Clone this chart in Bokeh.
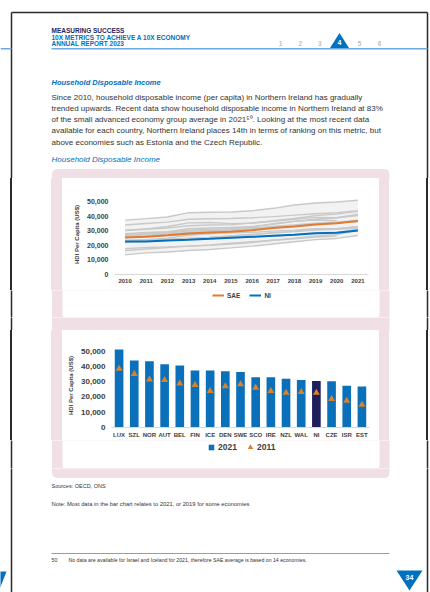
from bokeh.plotting import figure
from bokeh.layouts import column
from bokeh.models import (Range1d, FactorRange, FixedTicker, NumeralTickFormatter,
                          Legend, LegendItem, ColumnDataSource)
from bokeh.core.properties import value
from bokeh.embed import file_html
from bokeh.resources import INLINE
import numpy as np

# ---------------- data ----------------
YEARS = list(range(2010, 2022))
SAE = [25500, 25900, 27000, 28200, 28900, 29400, 30500, 31900, 33000, 34400, 35300, 36700]
NI = [22700, 22700, 23400, 23900, 24500, 25200, 25900, 26600, 27300, 28400, 28700, 30300]

LUX = [37400, 38400, 39500, 42500, 42800, 43000, 43800, 45500, 47800, 49200, 49800, 51000]
SZL = [34000, 35100, 36000, 38000, 38300, 38500, 39000, 39800, 40800, 41800, 42500, 43900]
NOR = [30500, 31400, 33000, 35500, 35800, 35000, 35200, 37000, 38500, 40500, 41500, 43400]
AUT = [30200, 31100, 32000, 33500, 34000, 34200, 35500, 36500, 38000, 39300, 39000, 41400]
BEL = [28000, 28900, 29500, 31500, 32000, 32300, 33000, 34500, 36500, 38000, 39000, 40600]
FIN = [27000, 27800, 28500, 29800, 30200, 30800, 31500, 33000, 34000, 35200, 36000, 37300]
ICE = [22500, 23900, 25000, 27000, 28000, 30000, 32500, 35000, 36500, 37500, 37000, np.nan]
DEN = [26300, 27000, 27800, 29000, 29500, 30500, 31500, 32500, 33800, 35000, 35500, 36800]
SWE = [27500, 28300, 29000, 30500, 31000, 31500, 32000, 32800, 33500, 34500, 35500, 36400]
SCO = [25500, 26100, 26800, 27500, 28000, 28600, 29000, 29800, 30500, 31500, 31500, 32900]
IRE = [23500, 23900, 24200, 25000, 25500, 26500, 27500, 28800, 29800, 31000, 31500, 32900]
NZL = [22000, 22800, 23500, 24500, 25500, 26500, 27500, 28500, 29500, 30500, 31000, 32000]
WAL = [22600, 23200, 23600, 24200, 24800, 25300, 25800, 26500, 27300, 28500, 29000, 31100]
CZE = [17800, 18600, 19000, 19500, 20000, 21000, 22000, 23500, 25000, 26500, 27500, 30300]
ISR = [16500, 17500, 18500, 19500, 20300, 21500, 22500, 23500, 24500, 25800, 26500, np.nan]
EST = [13500, 14900, 15500, 16500, 17200, 18300, 19500, 21000, 22500, 24000, 24800, 26800]
OTHERS = [LUX, SZL, NOR, AUT, BEL, FIN, ICE, DEN, SWE, SCO, IRE, NZL, WAL, CZE, ISR, EST]

BAR_CATS = ["LUX", "SZL", "NOR", "AUT", "BEL", "FIN", "ICE", "DEN", "SWE",
            "SCO", "IRE", "NZL", "WAL", "NI", "CZE", "ISR", "EST"]
BAR_2021 = [51100, 43900, 43400, 41400, 40600, 37300, 37300, 36800, 36400,
            32900, 32900, 32000, 31100, 30500, 30300, 27400, 26800]
BAR_2011 = [38400, 35100, 31400, 31100, 28900, 27800, 23900, 27000, 28300,
            26100, 23900, 22800, 23200, 22800, 18600, 17500, 14900]

Y_TICKS = [0, 10000, 20000, 30000, 40000, 50000]

BODY = [
    "Since 2010, household disposable income (per capita) in Northern Ireland has gradually",
    "trended upwards. Recent data show household disposable income in Northern Ireland at 83%",
    "of the small advanced economy group average in 2021\u2075\u2070. Looking at the most recent data",
    "available for each country, Northern Ireland places 14th in terms of ranking on this metric, but",
    "above economies such as Estonia and the Czech Republic.",
]

# ---------------- styles ----------------
FONT_NAME = "Liberation Sans"
FONT = value(FONT_NAME)
BLUE = "#0070C0"
NAVY = "#1F1F5E"
LBLUE = "#6FA8DC"
PINK = "#F0DFE5"
TXT = "#333333"
AX = "#404040"
BORDER = "#2A2A2A"
ORANGE = "#E07B30"
BAR_BLUE = "#0B70BA"
TRI = "#D9822B"

# page background for the chart rows (page border + pink panel margins)
ROW_BG = ("linear-gradient(to right, #ffffff 0px, #ffffff 10.25px, {b} 10.25px, {b} 11.75px, "
          "#ffffff 11.75px, #ffffff 51.5px, {p} 51.5px, {p} 62px, #ffffff 62px, #ffffff 379px, "
          "{p} 379px, {p} 389px, #ffffff 389px, #ffffff 426.25px, {b} 426.25px, {b} 427.75px, "
          "#ffffff 427.75px, #ffffff 430px)").format(b=BORDER, p=PINK)


def no_align(f):
    try:
        f.frame_align = False
    except Exception:
        pass
    return f


def txt(f, x, y, s, size, color=TXT, style="normal", align="left"):
    f.text(x=[x], y=[y], text=[s], text_font=FONT, text_font_size=size,
           text_color=color, text_font_style=style, text_align=align,
           text_baseline="middle")


def page_fig(y0, h, white_box=None):
    f = figure(width=430, height=h, x_range=Range1d(0, 430), y_range=Range1d(y0 + h, y0),
               x_axis_type=None, y_axis_type=None, min_border=0, toolbar_location=None,
               output_backend="svg", background_fill_color="white",
               border_fill_color="white", outline_line_color=None)
    no_align(f)
    f.grid.visible = False
    f.quad(left=[51.5], right=[389], top=[168.5], bottom=[477.5], fill_color=PINK,
           line_color=None, border_radius=5)
    if white_box is not None:
        f.quad(left=[62], right=[379], top=[white_box[0]], bottom=[white_box[1]],
               fill_color="white", line_color=None, border_radius=3)
    f.multi_line(xs=[[11, 11], [11, 427], [427, 427]], ys=[[12, 600], [12, 12], [12, 600]],
                 line_color=BORDER, line_width=1.5)
    f.multi_line(xs=[[51, 427], [0, 11]], ys=[[48.3, 48.3], [48.3, 48.3]],
                 line_color=LBLUE, line_width=1.5)
    f.line(x=[51, 389], y=[553, 553], line_color=LBLUE, line_width=1)
    return f


def style_axes(p, xsize, ysize):
    for ax in (p.xaxis, p.yaxis):
        ax.major_tick_line_color = None
        ax.minor_tick_line_color = None
        ax.major_tick_out = 0
        ax.major_tick_in = 0
        ax.minor_tick_out = 0
        ax.major_label_text_font = FONT_NAME
        ax.major_label_text_font_style = "bold"
        ax.major_label_text_color = AX
    p.xaxis.axis_line_color = "#D9D9D9"
    p.xaxis.major_label_text_font_size = xsize
    p.xaxis.major_label_standoff = 4
    p.yaxis.ticker = FixedTicker(ticks=Y_TICKS)
    p.yaxis.formatter = NumeralTickFormatter(format="0,0")
    p.yaxis.axis_line_color = None
    p.yaxis.major_label_text_font_size = ysize
    p.yaxis.major_label_standoff = 6
    p.yaxis.axis_label = "HDI Per Capita (US$)"
    p.yaxis.axis_label_text_font = FONT_NAME
    p.yaxis.axis_label_text_font_size = "6px"
    p.yaxis.axis_label_text_font_style = "bold"
    p.yaxis.axis_label_text_color = AX
    p.yaxis.axis_label_standoff = 4


# ---------------- region A (top) ----------------
A = page_fig(0, 178)
txt(A, 51, 30, "MEASURING SUCCESS", "6.5px", NAVY, "bold")
txt(A, 51, 36.5, "10X METRICS TO ACHIEVE A 10X ECONOMY", "6.5px", BLUE, "bold")
txt(A, 51, 43, "ANNUAL REPORT 2023", "6.5px", BLUE, "bold")
for i, n in enumerate(["1", "2", "3"]):
    txt(A, 280 + 19.7 * i, 42.5, n, "6.5px", "#BFBFBF", "bold", "center")
for i, n in enumerate(["5", "6"]):
    txt(A, 359 + 20 * i, 42.5, n, "6.5px", "#BFBFBF", "bold", "center")
A.patch(x=[329.5, 348.5, 339], y=[47.5, 47.5, 32.5], fill_color=BLUE, line_color=None)
txt(A, 339, 42.3, "4", "7px", "white", "bold", "center")
txt(A, 51, 82, "Household Disposable Income", "7.5px", BLUE, "bold italic")
for i, line in enumerate(BODY):
    txt(A, 51, 96.7 + 11.2 * i, line, "8px", TXT)
txt(A, 51, 159.3, "Household Disposable Income", "8px", BLUE, "italic")

# ---------------- line chart (y 178-290) ----------------
p1 = figure(width=430, height=112, x_range=Range1d(2009.5, 2021.5), y_range=Range1d(0, 55000),
            min_border_left=114, min_border_right=62, min_border_top=16, min_border_bottom=16,
            toolbar_location=None, output_backend="svg", background_fill_color="white",
            border_fill_alpha=0, outline_line_color=None, styles={"background": ROW_BG})
no_align(p1)
p1.grid.visible = False
arr = np.array(OTHERS + [SAE, NI], dtype=float)
p1.varea(x=YEARS, y1=np.nanmin(arr, axis=0), y2=np.nanmax(arr, axis=0), fill_color="#F2F2F2")
for s in OTHERS:
    p1.line(x=YEARS, y=s, line_color="#C9C9C9", line_width=1.4)
p1.line(x=YEARS, y=SAE, line_color=ORANGE, line_width=2)
p1.line(x=YEARS, y=NI, line_color=BLUE, line_width=2)
p1.xaxis.ticker = FixedTicker(ticks=YEARS)
style_axes(p1, "6px", "7px")

# legend strip of chart 1 (y 290-317); legend glyph proxies sit outside the visible range
G1 = page_fig(290, 27, white_box=(170, 317))
d_sae = G1.line(x=[-60, -50], y=[300, 300], line_color=ORANGE, line_width=2)
d_ni = G1.line(x=[-60, -50], y=[300, 300], line_color=BLUE, line_width=2)
G1.add_layout(Legend(items=[LegendItem(label="SAE", renderers=[d_sae]),
                            LegendItem(label="NI", renderers=[d_ni])],
                     orientation="horizontal", location=(212, 18), border_line_color=None,
                     background_fill_alpha=0, label_text_font=FONT_NAME,
                     label_text_font_size="6.5px", label_text_font_style="bold",
                     label_text_color=AX, glyph_width=12, glyph_height=8, label_height=8,
                     label_width=0, spacing=9, padding=0, margin=0, label_standoff=3))

# gap between the two white boxes (y 317-330)
C = page_fig(317, 13)

# ---------------- bar chart (y 330-440) ----------------
src = ColumnDataSource(dict(cat=BAR_CATS, v21=BAR_2021, v11=BAR_2011,
                            color=[NAVY if c == "NI" else BAR_BLUE for c in BAR_CATS]))
p2 = figure(width=430, height=110, x_range=FactorRange(factors=BAR_CATS), y_range=Range1d(0, 55000),
            min_border_left=111, min_border_right=61, min_border_top=13, min_border_bottom=13,
            toolbar_location=None, output_backend="svg", background_fill_color="white",
            border_fill_alpha=0, outline_line_color=None, styles={"background": ROW_BG})
no_align(p2)
p2.grid.visible = False
p2.vbar(x="cat", top="v21", width=0.57, fill_color="color", line_color=None, source=src)
p2.scatter(x="cat", y="v11", marker="triangle", size=7, fill_color=TRI, line_color=None, source=src)
style_axes(p2, "6px", "8px")

# legend strip of chart 2 (y 440-468)
G2 = page_fig(440, 28, white_box=(320, 468))
d_21 = G2.scatter(x=[-60], y=[450], marker="square", size=6, fill_color=BAR_BLUE, line_color=None)
d_11 = G2.scatter(x=[-60], y=[450], marker="triangle", size=7, fill_color=TRI, line_color=None)
G2.add_layout(Legend(items=[LegendItem(label="2021", renderers=[d_21]),
                            LegendItem(label="2011", renderers=[d_11])],
                     orientation="horizontal", location=(204, 14), border_line_color=None,
                     background_fill_alpha=0, label_text_font=FONT_NAME,
                     label_text_font_size="8.5px", label_text_font_style="bold",
                     label_text_color=AX, glyph_width=14, glyph_height=14, label_height=9,
                     label_width=0, spacing=6, padding=0, margin=0, label_standoff=0))

# ---------------- region E (bottom) ----------------
E = page_fig(468, 124)
txt(E, 51, 485, "Sources: OECD, ONS", "5.5px", TXT)
txt(E, 51, 503, "Note: Most data in the bar chart relates to 2021, or 2019 for some economies", "5.8px", TXT)
txt(E, 51, 559, "50", "5.2px", TXT)
txt(E, 68, 559, "No data are available for Israel and Iceland for 2021, therefore SAE average is based on 14 economies.",
    "5.2px", TXT)
E.patch(x=[396, 422, 409], y=[570, 570, 590], fill_color=BLUE, line_color=None)
txt(E, 409, 576.5, "34", "7px", "white", "bold", "center")
E.patch(x=[-8, 6, -1], y=[571, 571, 589], fill_color=BLUE, line_color=None)

layout = column(A, p1, G1, C, p2, G2, E)
open("out.html", "w").write(file_html(layout, INLINE))
